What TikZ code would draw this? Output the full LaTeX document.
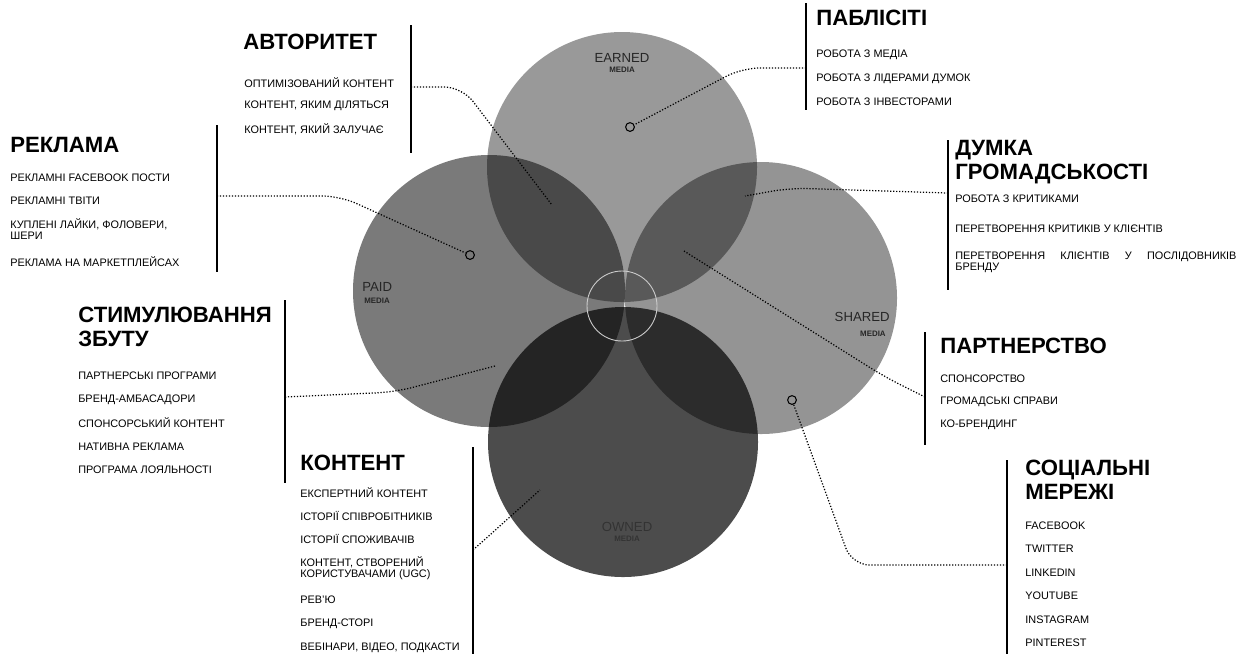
\documentclass[tikz,border=0pt]{standalone}
\usepackage{fontspec}
\setmainfont{Liberation Sans}
\usepackage{tikz}
\usetikzlibrary{positioning,calc}

\begin{document}
\begin{tikzpicture}[x=0.02cm, y=-0.02cm,
  ttl/.style={anchor=west, inner sep=0pt, align=left, font=\fontsize{12.6}{13.5}\selectfont\bfseries},
  item/.style={anchor=west, inner sep=0pt, align=left, font=\fontsize{6.2}{6.2}\selectfont},
  media/.style={fill=black, fill opacity=#1, draw=none},
  mlabel/.style={inner sep=0pt, font=\fontsize{7.5}{8}\selectfont, text=black!85},
  msub/.style={inner sep=0pt, font=\fontsize{4.5}{5}\selectfont\bfseries, text=black!85},
  bar/.style={draw, line width=0.6pt},
  link/.style={draw, densely dotted, line width=0.7pt, rounded corners=10pt},
  hub/.style={circle, draw, line width=0.6pt, inner sep=0pt, minimum size=5pt}]

  \useasboundingbox (0,0) rectangle (1246,654);

  % the four media circles
  \fill[media=0.40] (622,167) circle (135) coordinate (earned);
  \fill[media=0.52] (489,291) circle (136) coordinate (paid);
  \fill[media=0.42] (761,298) circle (136) coordinate (shared);
  \fill[media=0.70] (623,442) circle (135) coordinate (owned);
  \draw[white!80!black, line width=0.5pt] (622,306) circle (35);

  \node[mlabel] (earnedT) at (622,58) {EARNED};
  \node[msub, below=2pt of earnedT] {MEDIA};
  \node[mlabel, anchor=west] (paidT) at (362,287) {PAID};
  \node[msub, anchor=west] at (364,301) {MEDIA};
  \node[mlabel, anchor=east] (sharedT) at (890,317) {SHARED};
  \node[msub, anchor=east] at (886,334) {MEDIA};
  \node[mlabel, text=black!80] (ownedT) at (627,527) {OWNED};
  \node[msub, text=black!80, below=2pt of ownedT] {MEDIA};

  % markers
  \node[hub] (pubHub) at (630,127) {};
  \node[hub] (adHub) at (470,255) {};
  \node[hub] (socHub) at (792,400) {};
  \coordinate (avtEnd) at (552,205);
  \coordinate (opEnd) at (745,196);
  \coordinate (partEnd) at (684,251);
  \coordinate (stimEnd) at (495,366);
  \coordinate (conEnd) at (540,490);

  % АВТОРИТЕТ
  \node[ttl] (avtTitle) at (243,42) {АВТОРИТЕТ};
  \node[item] (avt1) at (244,83) {ОПТИМІЗОВАНИЙ КОНТЕНТ};
  \node[item] (avt2) at (244,106) {КОНТЕНТ, ЯКИМ ДІЛЯТЬСЯ};
  \node[item] (avt3) at (244,129) {КОНТЕНТ, ЯКИЙ ЗАЛУЧАЄ};
  \draw[bar] (411,25) -- (411,153);
  \coordinate (avtJoin) at (411,87);

  % ПАБЛІСІТІ
  \node[ttl] (pubTitle) at (816,18) {ПАБЛІСІТІ};
  \node[item] (pub1) at (816,55) {РОБОТА З МЕДІА};
  \node[item] (pub2) at (816,79) {РОБОТА З ЛІДЕРАМИ ДУМОК};
  \node[item] (pub3) at (816,102) {РОБОТА З ІНВЕСТОРАМИ};
  \draw[bar] (806,3) -- (806,110);
  \coordinate (pubJoin) at (806,68);

  % РЕКЛАМА
  \node[ttl] (adTitle) at (10,145) {РЕКЛАМА};
  \node[item] (ad1) at (10,178) {РЕКЛАМНІ FACEBOOK ПОСТИ};
  \node[item] (ad2) at (10,201) {РЕКЛАМНІ ТВІТИ};
  \node[item] (ad3) at (10,229) {КУПЛЕНІ ЛАЙКИ, ФОЛОВЕРИ,\\ШЕРИ};
  \node[item] (ad4) at (10,262) {РЕКЛАМА НА МАРКЕТПЛЕЙСАХ};
  \draw[bar] (217,125) -- (217,272);
  \coordinate (adJoin) at (217,196);

  % ДУМКА ГРОМАДСЬКОСТІ
  \node[ttl] (opTitle) at (955,162) {ДУМКА\\ГРОМАДСЬКОСТІ};
  \node[item] (op1) at (955,199) {РОБОТА З КРИТИКАМИ};
  \node[item] (op2) at (955,229) {ПЕРЕТВОРЕННЯ КРИТИКІВ У КЛІЄНТІВ};
  \node[item, text width=160pt] (op3) at (955,262) {ПЕРЕТВОРЕННЯ\hfill КЛІЄНТІВ\hfill У\hfill ПОСЛІДОВНИКІВ\\БРЕНДУ};
  \draw[bar] (948,140) -- (948,290);
  \coordinate (opJoin) at (948,193);

  % СТИМУЛЮВАННЯ ЗБУТУ
  \node[ttl] (stimTitle) at (78,327) {СТИМУЛЮВАННЯ\\ЗБУТУ};
  \node[item] (stim1) at (78,376) {ПАРТНЕРСЬКІ ПРОГРАМИ};
  \node[item] (stim2) at (78,400) {БРЕНД-АМБАСАДОРИ};
  \node[item] (stim3) at (78,423) {СПОНСОРСЬКИЙ КОНТЕНТ};
  \node[item] (stim4) at (78,447) {НАТИВНА РЕКЛАМА};
  \node[item] (stim5) at (78,470) {ПРОГРАМА ЛОЯЛЬНОСТІ};
  \draw[bar] (285,300) -- (285,483);
  \coordinate (stimJoin) at (285,397);

  % ПАРТНЕРСТВО
  \node[ttl] (partTitle) at (940,346) {ПАРТНЕРСТВО};
  \node[item] (part1) at (940,379) {СПОНСОРСТВО};
  \node[item] (part2) at (940,402) {ГРОМАДСЬКІ СПРАВИ};
  \node[item] (part3) at (940,425) {КО-БРЕНДИНГ};
  \draw[bar] (925,332) -- (925,445);
  \coordinate (partJoin) at (925,397);

  % КОНТЕНТ
  \node[ttl] (conTitle) at (300,463) {КОНТЕНТ};
  \node[item] (con1) at (300,493) {ЕКСПЕРТНИЙ КОНТЕНТ};
  \node[item] (con2) at (300,516) {ІСТОРІЇ СПІВРОБІТНИКІВ};
  \node[item] (con3) at (300,539) {ІСТОРІЇ СПОЖИВАЧІВ};
  \node[item] (con4) at (300,568) {КОНТЕНТ, СТВОРЕНИЙ\\КОРИСТУВАЧАМИ (UGC)};
  \node[item] (con5) at (300,600) {РЕВ’Ю};
  \node[item] (con6) at (300,624) {БРЕНД-СТОРІ};
  \node[item] (con7) at (300,648) {ВЕБІНАРИ, ВІДЕО, ПОДКАСТИ};
  \draw[bar] (473,447) -- (473,654);
  \coordinate (conJoin) at (473,550);

  % СОЦІАЛЬНІ МЕРЕЖІ
  \node[ttl] (socTitle) at (1025,480) {СОЦІАЛЬНІ\\МЕРЕЖІ};
  \node[item] (soc1) at (1025,526) {FACEBOOK};
  \node[item] (soc2) at (1025,549) {TWITTER};
  \node[item] (soc3) at (1025,573) {LINKEDIN};
  \node[item] (soc4) at (1025,596) {YOUTUBE};
  \node[item] (soc5) at (1025,620) {INSTAGRAM};
  \node[item] (soc6) at (1025,643) {PINTEREST};
  \draw[bar] (1007,460) -- (1007,654);
  \coordinate (socJoin) at (1007,565);

  % connectors
  \path[link] (avtJoin) -- (462,87) -- (avtEnd);
  \path[link] (pubJoin) -- (742,68) -- (pubHub);
  \path[link] (adJoin) -- (340,196) -- (adHub);
  \path[link] (opJoin) -- (790,188) -- (opEnd);
  \path[link] (partJoin) -- (885,377) -- (partEnd);
  \path[link] (socJoin) -- (852,565) -- (socHub);
  \path[link] (stimJoin) -- (395,392) -- (stimEnd);
  \path[link] (conJoin) -- (conEnd);
\end{tikzpicture}
\end{document}
